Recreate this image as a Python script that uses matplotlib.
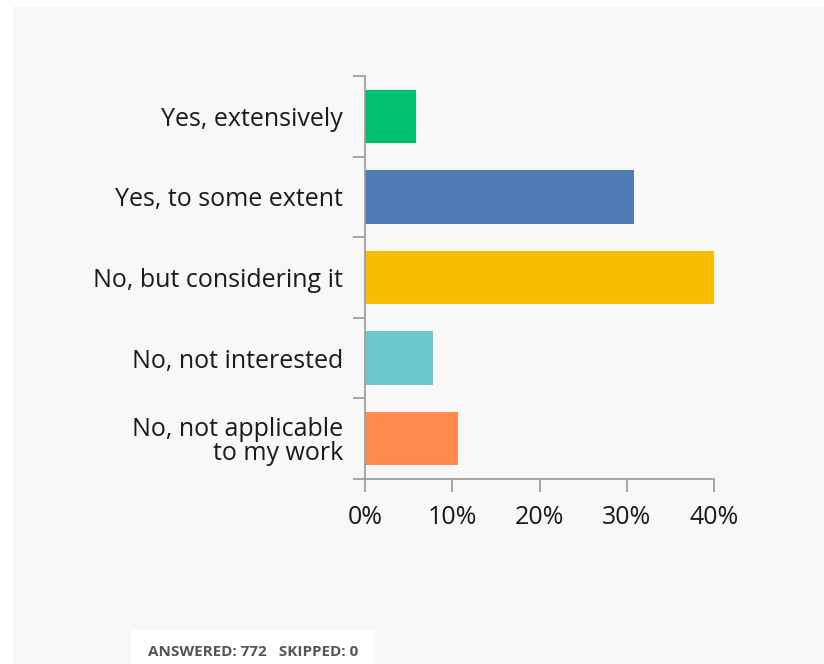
import matplotlib.pyplot as plt
from matplotlib.patches import Rectangle

# survey answers (percent of respondents)
categories = ["Yes, extensively", "Yes, to some extent", "No, but considering it",
              "No, not interested", "No, not applicable\nto my work"]
values = [5.8, 30.85, 40.0, 7.77, 10.64]
colors = ["#00BF6F", "#507CB6", "#F9BE00", "#6BC8CD", "#FF8B4F"]
xticks = [0, 10, 20, 30, 40]
footer = "ANSWERED: 772   SKIPPED: 0"

plt.rcParams['font.family'] = ['Open Sans', 'DejaVu Sans']

W, H = 824, 664
fig = plt.figure(figsize=(W / 100, H / 100), dpi=100, facecolor='white')

# light grey panel behind the chart
fig.patches.append(Rectangle((13 / W, 0), 1 - 13 / W, 1 - 6 / H, transform=fig.transFigure,
                             facecolor='#f8f8f8', edgecolor='none', zorder=-10))
# white footer box
fig.patches.append(Rectangle((131 / W, 0), 243 / W, 34 / H, transform=fig.transFigure,
                             facecolor='white', edgecolor='none', zorder=-9))

ax = fig.add_axes([365 / W, 1 - 479 / H, (714 - 365) / W, (479 - 76) / H])
ax.set_facecolor('none')

y = list(range(len(categories)))
ax.barh(y, values, height=0.665, color=colors, zorder=2)

ax.set_xlim(0, 40)
ax.set_ylim(len(categories) - 0.5, -0.5)

ax.set_yticks(y)
ax.set_yticklabels(categories, fontsize=18, color='#1a1a1a', linespacing=0.95)
ax.set_yticks([i - 0.5 for i in range(len(categories) + 1)], minor=True)
ax.tick_params(axis='y', which='major', length=0, pad=16)
ax.tick_params(axis='y', which='minor', length=9, width=1.2, color='#999999')

ax.set_xticks(xticks)
ax.set_xticklabels([f"{t}%" for t in xticks], fontsize=18, color='#1a1a1a')
ax.tick_params(axis='x', length=9, width=1.2, color='#999999', pad=10)

for s in ['top', 'right']:
    ax.spines[s].set_visible(False)
for s in ['left', 'bottom']:
    ax.spines[s].set_color('#999999')
    ax.spines[s].set_linewidth(1.2)

fig.text(148 / W, 1 - 652 / H, footer, fontsize=11, fontweight='bold',
         color='#555555', va='center', ha='left')

fig.savefig('out.png', dpi=100)
